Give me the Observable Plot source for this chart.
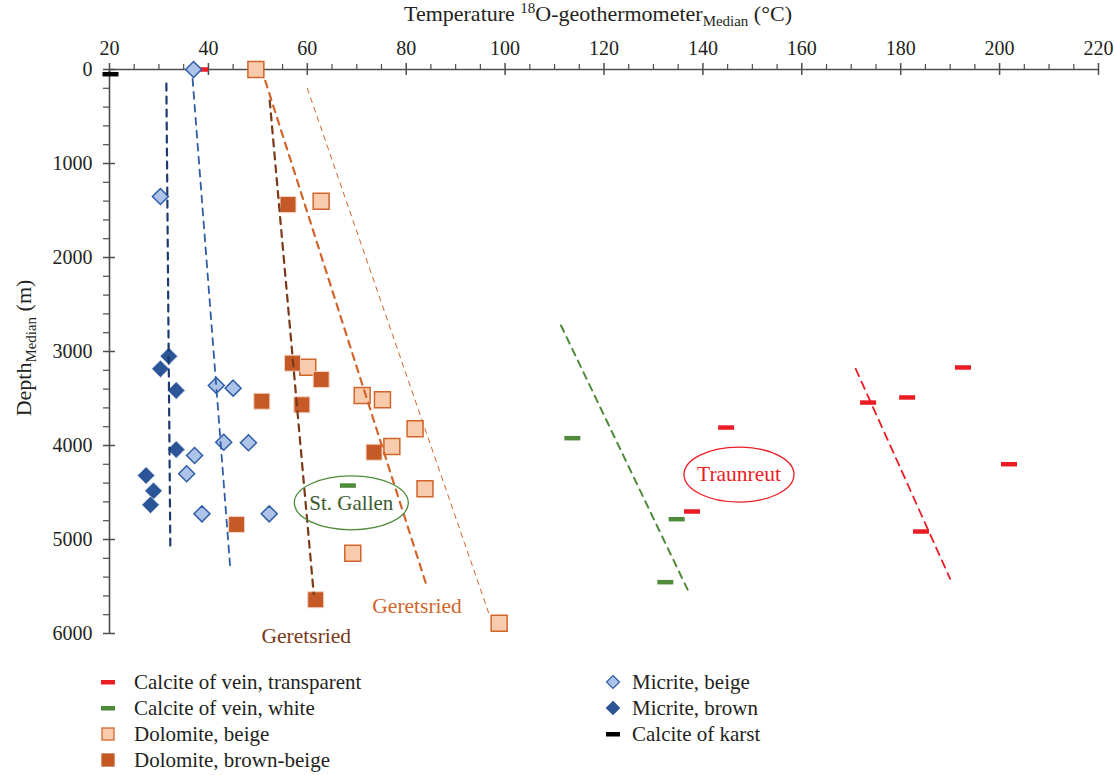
<!DOCTYPE html>
<html><head><meta charset="utf-8">
<script src="https://cdn.jsdelivr.net/npm/d3@7"></script>
<script src="https://cdn.jsdelivr.net/npm/@observablehq/plot@0.6"></script>
<style>
body{margin:0;background:#fff;font-family:"Liberation Serif",serif;color:#231f20}
#wrap{position:relative;width:1115px;height:775px;overflow:hidden}
#chart{position:absolute;left:0;top:0}
#title{position:absolute;top:1px;left:0;width:1196px;text-align:center;font-size:22px;white-space:nowrap}
#ylab{position:absolute;left:24px;top:348px;transform:translate(-50%,-50%) rotate(-90deg);font-size:22px;white-space:nowrap}
sup,sub{font-size:0.68em;line-height:0}
.leg{position:absolute;font-size:21px}
.row{display:flex;align-items:center;height:26px}
.row svg{flex:none}
#legL .row svg{margin-right:18px}
#legR .row svg{margin-right:11px}
</style></head><body>
<div id="wrap">
<div id="chart"></div>
<div id="title">Temperature <sup>18</sup>O-geothermometer<sub>Median</sub> (°C)</div>
<div id="ylab">Depth<sub>Median</sub> (m)</div>
<div class="leg" id="legL" style="left:100px;top:669px"></div>
<div class="leg" id="legR" style="left:605px;top:669px"></div>
</div>
<script>
// ---- data: [temperature °C, depth m] ----
const veinTransparent = [[38.4,0],[144.8,3809],[137.9,4702],[192.7,3170],[173.5,3543],[181.4,3489],[202.0,4199],[184.2,4915]];
const veinWhite = [[113.7,3922],[134.8,4784],[132.5,5454],[68.3,4426]];
const dolomiteBeige = [[49.6,0],[62.8,1401],[60.1,3167],[71.1,3468],[75.2,3514],[81.8,3822],[77.1,4011],[83.8,4461],[69.2,5146],[98.8,5890]];
const dolomiteBrown = [[56.1,1436],[57.0,3124],[62.8,3298],[50.8,3529],[58.9,3567],[73.5,4071],[45.7,4840],[61.7,5641]];
const micriteBeige = [[37.0,0],[30.3,1351],[41.6,3362],[45.0,3390],[43.1,3965],[48.1,3971],[37.2,4106],[35.6,4301],[38.7,4727],[52.3,4727]];
const micriteBrown = [[32.0,3050],[30.3,3184],[33.5,3415],[33.5,4043],[27.4,4319],[28.9,4482],[28.3,4631]];
const calciteKarst = [[20.3,50]];

// trend lines
const trendMicriteBrown = [[31.5,150],[32.3,5080]];
const trendMicriteBeige = [[36.8,100],[44.4,5290]];
const trendDolBrown = [[52.4,330],[61.3,5580]];
const trendDolBeige = [[51.5,120],[84.0,5471]];
const trendDolBeigeThin = [[60.0,200],[97.0,5830]];
const trendWhite = [[111.3,2723],[137.0,5543]];
const trendTransparent = [[170.9,3184],[190.0,5418]];

// annotations
const labelStGallen = [{t:68.9, d:4610, text:"St. Gallen"}];
const labelTraunreut = [{t:147.3, d:4309, text:"Traunreut"}];
const labelGeretsriedBeige = [{t:82.2, d:5710, text:"Geretsried"}];
const labelGeretsriedBrown = [{t:59.8, d:6030, text:"Geretsried"}];

// ticks
const xMajor = [20,40,60,80,100,120,140,160,180,200,220];
const xMinor = d3.range(20,221,5).filter(v => v % 20 !== 0);
const yMajor = [0,1000,2000,3000,4000,5000,6000];
const yMinor = d3.range(0,6001,200).filter(v => v % 1000 !== 0);

// colours
const cRed="#ec1c24", cGreen="#4e8a3a", cGreenText="#3b5a2e",
      cDolBeigeFill="#f9cbad", cDolBeigeStroke="#d2652c", cDolBrown="#c55a26",
      cMicBeigeFill="#adc4e8", cMicBeigeStroke="#2f5ca8", cMicBrown="#2b5597",
      cTrendMicBrown="#1d3b6e", cTrendDolBrown="#7a3918", cAxis="#4d4d4d";

const ellipse = (rx, ry) => ({draw(ctx){const k=0.5523;
  ctx.moveTo(rx,0); ctx.bezierCurveTo(rx,ry*k,rx*k,ry,0,ry); ctx.bezierCurveTo(-rx*k,ry,-rx,ry*k,-rx,0);
  ctx.bezierCurveTo(-rx,-ry*k,-rx*k,-ry,0,-ry); ctx.bezierCurveTo(rx*k,-ry,rx,-ry*k,rx,0); ctx.closePath();}});

const X = d => d[0], Y = d => d[1];
const dash = (data, color) => Plot.ruleY(data, {y:Y, x1:X, x2:X, insetLeft:-8, insetRight:-8, stroke:color, strokeWidth:4.5});
const trend = (data, color, w, da) => Plot.line(data, {x:X, y:Y, stroke:color, strokeWidth:w, strokeDasharray:da});

const chart = Plot.plot({
  width:1115, height:655, marginTop:69, marginLeft:109, marginRight:17, marginBottom:22,
  x:{domain:[20,220]}, y:{domain:[0,6000], reverse:true},
  style:{fontFamily:"Liberation Serif", fontSize:"20px", color:"#231f20", overflow:"visible", background:"transparent"},
  marks:[
    Plot.ruleY([0], {stroke:cAxis, strokeWidth:1.6}),
    Plot.ruleX([20], {stroke:cAxis, strokeWidth:1.6}),
    Plot.ruleX(xMajor, {y1:0, y2:0, insetTop:-6, insetBottom:-6, stroke:cAxis, strokeWidth:1.5}),
    Plot.ruleX(xMinor, {y1:0, y2:0, insetTop:-5, insetBottom:0, stroke:cAxis, strokeWidth:1.2}),
    Plot.ruleY(yMajor, {x1:20, x2:20, insetLeft:-6, insetRight:-6, stroke:cAxis, strokeWidth:1.5}),
    Plot.ruleY(yMinor, {x1:20, x2:20, insetLeft:-6, insetRight:0, stroke:cAxis, strokeWidth:1.2}),
    Plot.axisX(xMajor, {anchor:"top", tickSize:0, tickPadding:15, label:null, fill:"#231f20", fontSize:20}),
    Plot.axisY(yMajor, {anchor:"left", tickSize:0, tickPadding:17, label:null, tickFormat:d=>String(d), fill:"#231f20", fontSize:20}),

    dash(veinTransparent, cRed),
    dash(veinWhite, cGreen),

    Plot.dot(dolomiteBeige, {x:X, y:Y, symbol:"square", r:9, fill:cDolBeigeFill, stroke:cDolBeigeStroke, strokeWidth:1.5}),
    Plot.dot(dolomiteBrown, {x:X, y:Y, symbol:"square", r:9, fill:cDolBrown, stroke:"#f3d2c0", strokeWidth:1}),
    Plot.dot(micriteBeige, {x:X, y:Y, symbol:"diamond2", r:7.2, fill:cMicBeigeFill, stroke:cMicBeigeStroke, strokeWidth:1.5}),
    Plot.dot(micriteBrown, {x:X, y:Y, symbol:"diamond2", r:7.8, fill:cMicBrown, stroke:"#c9d6ee", strokeWidth:0.8}),

    trend(trendMicriteBrown, cTrendMicBrown, 2.2, "7,6"),
    trend(trendMicriteBeige, cMicBeigeStroke, 1.8, "7,6"),
    trend(trendDolBrown, cTrendDolBrown, 2.2, "7,6"),
    trend(trendDolBeige, cDolBeigeStroke, 2.2, "7,6"),
    trend(trendDolBeigeThin, cDolBeigeStroke, 1, "5,5"),
    trend(trendWhite, cGreen, 2, "7,6"),
    trend(trendTransparent, cRed, 1.8, "8,6"),

    dash(calciteKarst, "#000"),

    Plot.dot(labelStGallen, {x:"t", y:"d", symbol:ellipse(57,27), r:5, stroke:cGreen, strokeWidth:1.3, fill:"none"}),
    Plot.text(labelStGallen, {x:"t", y:"d", text:"text", fill:cGreenText, fontSize:21}),
    Plot.dot(labelTraunreut, {x:"t", y:"d", symbol:ellipse(55,27.5), r:5, stroke:cRed, strokeWidth:1.3, fill:"none"}),
    Plot.text(labelTraunreut, {x:"t", y:"d", text:"text", fill:cRed, fontSize:21.5}),
    Plot.text(labelGeretsriedBeige, {x:"t", y:"d", text:"text", fill:cDolBeigeStroke, fontSize:21.5}),
    Plot.text(labelGeretsriedBrown, {x:"t", y:"d", text:"text", fill:cTrendDolBrown, fontSize:21.5})
  ]
});
document.getElementById("chart").appendChild(chart);

// legend
const sw = {
  dash: c => `<svg width="16" height="16"><rect x="1" y="6" width="14" height="4.5" fill="${c}"/></svg>`,
  square: (f,s) => `<svg width="16" height="16"><rect x="2" y="2" width="12" height="12" fill="${f}" stroke="${s}" stroke-width="1.3"/></svg>`,
  diamond: (f,s) => `<svg width="16" height="16"><path d="M8,1.5L14.5,8L8,14.5L1.5,8Z" fill="${f}" stroke="${s}" stroke-width="1.2"/></svg>`
};
const legendLeft = [
  [sw.dash(cRed), "Calcite of vein, transparent"],
  [sw.dash(cGreen), "Calcite of vein, white"],
  [sw.square(cDolBeigeFill, cDolBeigeStroke), "Dolomite, beige"],
  [sw.square(cDolBrown, cDolBrown), "Dolomite, brown-beige"]
];
const legendRight = [
  [sw.diamond(cMicBeigeFill, cMicBeigeStroke), "Micrite, beige"],
  [sw.diamond(cMicBrown, cMicBrown), "Micrite, brown"],
  [sw.dash("#000"), "Calcite of karst"]
];
document.getElementById("legL").innerHTML = legendLeft.map(([s,t]) => `<div class="row">${s}<span>${t}</span></div>`).join("");
document.getElementById("legR").innerHTML = legendRight.map(([s,t]) => `<div class="row">${s}<span>${t}</span></div>`).join("");
</script>
</body></html>
